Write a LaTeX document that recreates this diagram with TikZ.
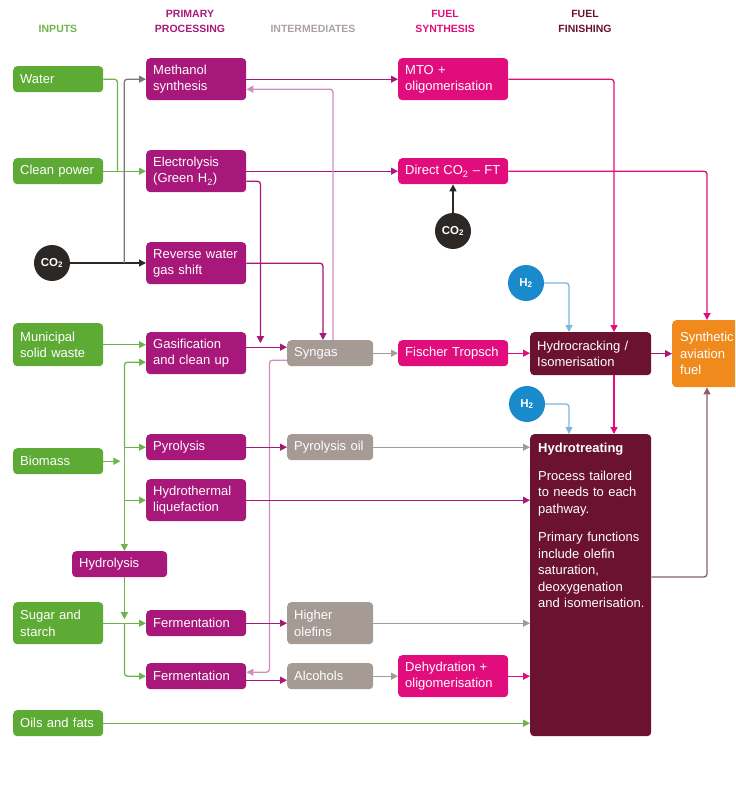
\documentclass[tikz,border=0pt]{standalone}
\usepackage{fontspec}
\setmainfont{Liberation Sans}
\usetikzlibrary{arrows.meta,calc}

\definecolor{inputgreen}{HTML}{5DAA35}
\definecolor{greenline}{HTML}{6DB54A}
\definecolor{procpurple}{HTML}{A8177A}
\definecolor{recycle}{HTML}{CF8DBB}
\definecolor{intergrey}{HTML}{A59A94}
\definecolor{synthpink}{HTML}{E20D7C}
\definecolor{finmaroon}{HTML}{6B1231}
\definecolor{fuelorange}{HTML}{F08A1D}
\definecolor{co2dark}{HTML}{2B2826}
\definecolor{co2grey}{HTML}{7A7876}
\definecolor{h2blue}{HTML}{198ACB}
\definecolor{h2line}{HTML}{7CB5DF}
\definecolor{hdrgrey}{HTML}{ABA3A0}
\definecolor{returnline}{HTML}{8F5D6C}

\begin{document}
\begin{tikzpicture}[x=1pt, y=-1pt,
	font=\fontsize{13}{16.5}\selectfont,
	stagebox/.style={anchor=north west, rounded corners=4pt, text=white, align=left, inner xsep=7pt, inner ysep=2pt},
	inbox/.style={stagebox, fill=inputgreen, text width=76pt},
	procbox/.style={stagebox, fill=procpurple, text width=86pt},
	interbox/.style={stagebox, fill=intergrey, text width=72pt},
	synbox/.style={stagebox, fill=synthpink, text width=96pt},
	finbox/.style={stagebox, fill=finmaroon, text width=107pt},
	bubble/.style={circle, minimum size=36pt, inner sep=0pt, text=white, font=\fontsize{11.5}{13}\selectfont\bfseries},
	hdr/.style={align=center, font=\fontsize{10.5}{15}\selectfont\bfseries},
	flow/.style={line width=1.3pt, rounded corners=3pt, -{Triangle[length=7pt,width=7pt]}}]
	\useasboundingbox (0,0) rectangle (735,791);
	\clip (0,0) rectangle (735,791);

	% column headers
	\node[hdr, text=greenline] (hinputs) at (58,29) {INPUTS};
	\node[hdr, text=procpurple] (hproc) at (190,21.5) {PRIMARY\\PROCESSING};
	\node[hdr, text=hdrgrey] (hinter) at (313,29) {INTERMEDIATES};
	\node[hdr, text=synthpink] (hsynth) at (445,21.5) {FUEL\\SYNTHESIS};
	\node[hdr, text=finmaroon] (hfinish) at (585,21.5) {FUEL\\FINISHING};

	% inputs
	\node[inbox, minimum height=26pt] (water) at (13,66) {Water};
	\node[inbox, minimum height=26pt] (power) at (13,158) {Clean power};
	\node[bubble, fill=co2dark] (co2a) at (52,263) {CO\textsubscript{2}};
	\node[inbox, minimum height=43pt] (msw) at (13,323) {Municipal\\solid waste};
	\node[inbox, minimum height=26pt] (biomass) at (13,448) {Biomass};
	\node[inbox, minimum height=42pt] (sugar) at (13,602) {Sugar and\\starch};
	\node[inbox, minimum height=26pt] (oils) at (13,710) {Oils and fats};

	% primary processing
	\node[procbox, minimum height=42pt] (methanol) at (146,58) {Methanol\\synthesis};
	\node[procbox, minimum height=42pt] (electro) at (146,150) {Electrolysis\\(Green H\textsubscript{2})};
	\node[procbox, minimum height=42pt] (rwgs) at (146,242) {Reverse water\\gas shift};
	\node[procbox, minimum height=42pt] (gasify) at (146,332) {Gasification\\and clean up};
	\node[procbox, minimum height=26pt] (pyrolysis) at (146,434) {Pyrolysis};
	\node[procbox, minimum height=42pt] (htl) at (146,479) {Hydrothermal\\liquefaction};
	\node[procbox, text width=81pt, minimum height=26pt] (hydrolysis) at (72,551) {Hydrolysis};
	\node[procbox, minimum height=26pt] (ferm1) at (146,610) {Fermentation};
	\node[procbox, minimum height=26pt] (ferm2) at (146,663) {Fermentation};

	% intermediates
	\node[interbox, minimum height=26pt] (syngas) at (287,340) {Syngas};
	\node[interbox, minimum height=26pt] (pyoil) at (287,434) {Pyrolysis oil};
	\node[interbox, minimum height=42pt] (olefins) at (287,602) {Higher\\olefins};
	\node[interbox, minimum height=26pt] (alcohols) at (287,663) {Alcohols};

	% fuel synthesis
	\node[synbox, minimum height=42pt] (mto) at (398,58) {MTO +\\oligomerisation};
	\node[synbox, minimum height=26pt] (directft) at (398,158) {\mbox{Direct CO\textsubscript{2} -- FT}};
	\node[bubble, fill=co2dark] (co2b) at (453,231) {CO\textsubscript{2}};
	\node[synbox, minimum height=26pt] (fischer) at (398,340) {Fischer Tropsch};
	\node[synbox, minimum height=42pt] (dehydr) at (398,655) {Dehydration +\\oligomerisation};

	% fuel finishing
	\node[bubble, fill=h2blue] (h2a) at (526,283) {H\textsubscript{2}};
	\node[finbox, minimum height=43pt] (hcrack) at (530,332) {Hydrocracking /\\Isomerisation};
	\node[bubble, fill=h2blue] (h2b) at (527,404) {H\textsubscript{2}};
	\node[finbox, minimum height=302pt] (hytreat) at (530,434) {};
	\node[anchor=north west, text=white, text width=112pt, inner sep=0pt, align=left] (hytext) at ($(hytreat.north west)+(8,9)$)
		{\textbf{Hydrotreating}\\[11pt]
		Process tailored\\to needs to each\\pathway.\\[12pt]
		Primary functions\\include olefin\\saturation,\\deoxygenation\\and isomerisation.};
	\node[stagebox, fill=fuelorange, text width=80pt, inner xsep=8pt, minimum height=67pt] (saf) at (672,320) {Synthetic\\aviation\\fuel};

	% inputs to primary processing
	\coordinate (bx) at ($(biomass.east)+(21,0)$);
	\draw[flow, greenline, -] (water.east) -| ($(power.east)+(14,0)$);
	\draw[flow, greenline] (power.east) -- (electro.west |- power.east);
	\draw[flow, co2dark] (co2a) -- (rwgs.west |- co2a);
	\draw[flow, co2grey] ($(co2a.east)+(54,0)$) |- (methanol.west);
	\draw[flow, greenline] (msw.east) -- (msw.east -| gasify.west);
	\draw[flow, greenline] (biomass.east) -- ($(biomass.east)+(17,0)$);
	\draw[flow, greenline] (bx |- pyrolysis.west) |- ($(gasify.west)+(0,9)$);
	\draw[flow, greenline] (bx |- pyrolysis.west) -- (pyrolysis.west);
	\draw[flow, greenline] (bx |- htl.west) -- (htl.west);
	\draw[flow, greenline] (bx |- pyrolysis.west) -- (bx |- hydrolysis.north);
	\draw[flow, greenline] (bx |- hydrolysis.south) -- ($(bx |- sugar.east)+(0,-4)$);
	\draw[flow, greenline] (sugar.east) -- (ferm1.west |- sugar.east);
	\draw[flow, greenline] (bx |- sugar.east) |- (ferm2.west);

	% primary processing onwards
	\draw[flow, procpurple] (methanol.east) -- (mto.west);
	\draw[flow, procpurple] (electro.east) -- (directft.west |- electro.east);
	\draw[flow, procpurple] ($(electro.east)+(0,10)$) -| ($(gasify.east)+(14,-10)$);
	\draw[flow, procpurple] (rwgs.east) -| ($(syngas.north west)+(36,0)$);
	\draw[flow, recycle] ($(syngas.north west)+(46,0)$) |- ($(methanol.east)+(0,10)$);
	\draw[flow, procpurple] ($(gasify.east)+(0,-6)$) -- ($(syngas.west)+(0,-6)$);
	\draw[flow, recycle] ($(syngas.west)+(0,7)$) -| ($(ferm2.east)+(23,-4)$) -- ($(ferm2.east)+(0,-4)$);
	\draw[flow, procpurple] (pyrolysis.east) -- (pyoil.west);
	\draw[flow, procpurple] (htl.east) -- (htl.east -| hytreat.west);
	\draw[flow, procpurple] (ferm1.east) -- (ferm1.east -| olefins.west);
	\draw[flow, procpurple] ($(ferm2.east)+(0,4)$) -- ($(ferm2.east -| alcohols.west)+(0,4)$);

	% intermediates onwards
	\draw[flow, intergrey] (syngas.east) -- (fischer.west);
	\draw[flow, intergrey] (pyoil.east) -- (pyoil.east -| hytreat.west);
	\draw[flow, intergrey] (olefins.east) -- (olefins.east -| hytreat.west);
	\draw[flow, intergrey] (alcohols.east) -- (alcohols.east -| dehydr.west);

	% fuel synthesis to finishing
	\draw[flow, synthpink] (mto.east) -| ($(hcrack.north west)+(84,0)$);
	\draw[flow, synthpink] (directft.east) -| ($(saf.north west)+(35,0)$);
	\draw[flow, co2dark] (co2b) -- (directft.south -| co2b);
	\draw[flow, synthpink] (fischer.east) -- (hcrack.west |- fischer.east);
	\draw[flow, synthpink] (dehydr.east) -- (dehydr.east -| hytreat.west);
	\draw[flow, greenline] (oils.east) -- (oils.east -| hytreat.west);

	% finishing
	\draw[flow, h2line] (h2a.east) -| ($(hcrack.north west)+(39,0)$);
	\draw[flow, h2line] (h2b.east) -| ($(hytreat.north west)+(39,0)$);
	\draw[flow, synthpink] ($(hcrack.south west)+(84,0)$) -- ($(hytreat.north west)+(84,0)$);
	\draw[flow, procpurple] (hcrack.east) -- (saf.west |- hcrack.east);
	\draw[flow, returnline] ($(hytreat.north east)+(0,143)$) -| ($(saf.south west)+(35,0)$);
\end{tikzpicture}
\end{document}
